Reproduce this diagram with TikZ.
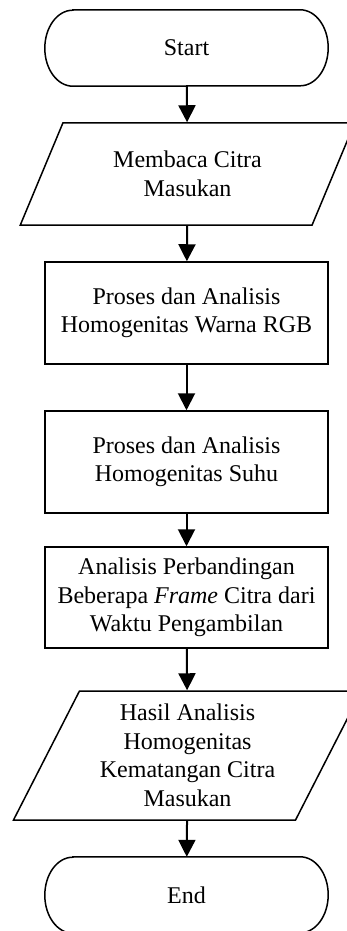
\documentclass[tikz,border=0pt]{standalone}
\usepackage{fontspec}
\setmainfont{Liberation Serif}
\usetikzlibrary{shapes.geometric,arrows.meta}
\tikzset{
  base/.style={minimum width=283pt, align=center, font=\fontsize{24}{28.5}\selectfont},
  terminal/.style={base, minimum height=76pt},
  process/.style={base, draw, line width=1.5pt, minimum height=102pt},
  io/.style={base, draw, line width=1.5pt, trapezium, trapezium left angle=63,
    trapezium right angle=117, trapezium stretches=true},
  flow/.style={-{Triangle[length=17pt,width=17pt]}, line width=2pt},
}
% outline of a terminal node with elliptic ends
\newcommand{\drawterminal}[1]{%
  \draw[line width=1.5pt] ([xshift=28pt]#1.north west) -- ([xshift=-28pt]#1.north east)
    arc[start angle=90, end angle=-90, x radius=28pt, y radius=38pt]
    -- ([xshift=28pt]#1.south west)
    arc[start angle=270, end angle=90, x radius=28pt, y radius=38pt] -- cycle;}
\begin{document}
\begin{tikzpicture}[x=1pt,y=-1pt]
\useasboundingbox (0,0) rectangle (347,931);
\clip (0,0) rectangle (347,931);
% nodes
\node[terminal] (start) at (186.5,48) {Start};
\node[io, minimum width=335pt, minimum height=102pt] (input) at (187.5,174) {Membaca Citra\\Masukan};
\node[process] (rgb) at (186.5,313) {Proses dan Analisis\\Homogenitas Warna RGB};
\node[process] (suhu) at (186.5,462) {Proses dan Analisis\\Homogenitas Suhu};
\node[process, minimum height=101pt] (frame) at (186.5,597.5) {Analisis Perbandingan\\Beberapa \textit{Frame} Citra dari\\Waktu Pengambilan};
\node[io, minimum width=349pt, minimum height=129pt] (hasil) at (187.5,755.5) {Hasil Analisis\\Homogenitas\\Kematangan Citra\\Masukan};
\node[terminal] (end) at (186.5,895) {End};
\drawterminal{start}
\drawterminal{end}
% connectors
\draw[flow] (start) -- (input);
\draw[flow] (input) -- (rgb);
\draw[flow] (rgb) -- (suhu);
\draw[flow] (suhu) -- (frame);
\draw[flow] (frame) -- (hasil);
\draw[flow] (hasil) -- (end);
\end{tikzpicture}
\end{document}
